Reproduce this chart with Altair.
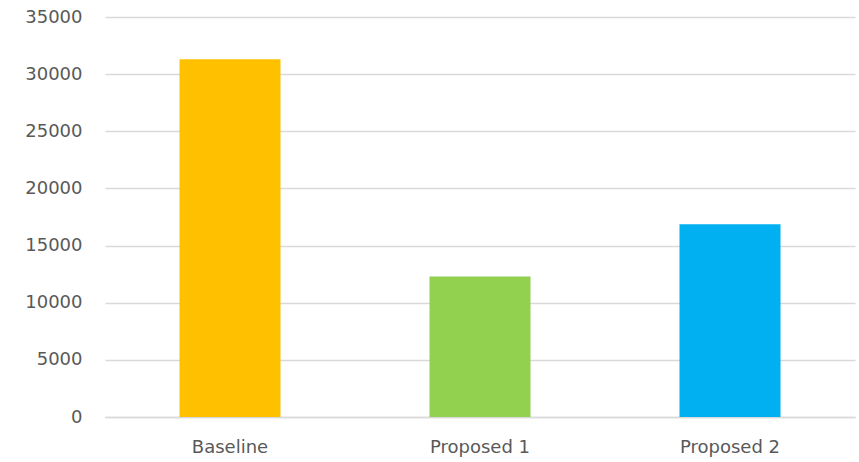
import altair as alt
import pandas as pd

# Scenario totals
categories = ["Baseline", "Proposed 1", "Proposed 2"]
values = [31300, 12300, 16870]
colors = ["#FFC000", "#92D050", "#00B0F0"]

df = pd.DataFrame({"scenario": categories, "value": values})

bars = alt.Chart(df).mark_bar(size=101).encode(
    x=alt.X(
        "scenario:N",
        sort=categories,
        scale=alt.Scale(paddingInner=0, paddingOuter=0),
        axis=alt.Axis(
            title=None,
            labelAngle=0,
            ticks=False,
            domain=True,
            domainColor="#d9d9d9",
            domainWidth=1.5,
            labelPadding=21,
            labelFontSize=18,
            labelFont="DejaVu Sans",
            labelColor="#595959",
            grid=False,
        ),
    ),
    y=alt.Y(
        "value:Q",
        scale=alt.Scale(domain=[0, 35000]),
        axis=alt.Axis(
            title=None,
            values=list(range(0, 35001, 5000)),
            format="d",
            ticks=False,
            domain=False,
            labelPadding=23,
            labelFontSize=18,
            labelFont="DejaVu Sans",
            labelColor="#595959",
            gridColor="#d9d9d9",
            gridWidth=1.5,
        ),
    ),
    color=alt.Color(
        "scenario:N",
        scale=alt.Scale(domain=categories, range=colors),
        legend=None,
    ),
)

chart = bars.properties(
    width=750,
    height=400,
    autosize=alt.AutoSizeParams(type="none"),
    padding={"left": 105, "top": 17, "right": 4, "bottom": 45},
).configure_view(stroke=None)

chart.save("out.html", embed_options={"renderer": "svg", "actions": False})
